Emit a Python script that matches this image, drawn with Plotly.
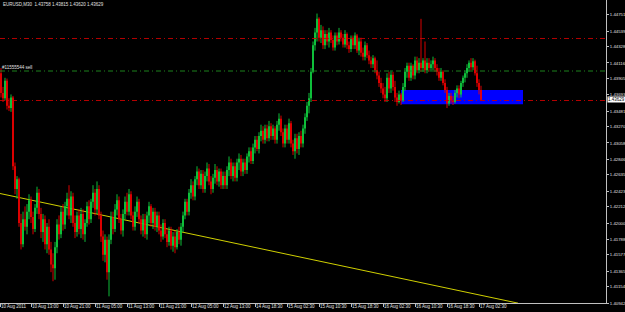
import plotly.graph_objects as go

# ---------------- data (EURUSD M30, prices in 1e-4 units) ----------------
opens = [
    14398,14372,14365,14388,14355,14352,14366,14275,14245,14258,
    14200,14172,14205,14195,14215,14230,14208,14192,14220,14240,
    14212,14188,14205,14172,14195,14165,14145,14140,14168,14198,
    14185,14215,14198,14222,14232,14210,14235,14200,14188,14210,
    14192,14212,14185,14200,14222,14205,14228,14240,14218,14245,
    14210,14182,14158,14178,14135,14178,14208,14192,14218,14230,
    14205,14190,14212,14228,14215,14238,14210,14195,14215,14228,
    14205,14190,14205,14185,14210,14222,14200,14215,14195,14210,
    14190,14182,14200,14185,14175,14190,14170,14182,14168,14188,
    14178,14195,14210,14228,14215,14240,14250,14235,14258,14268,
    14250,14265,14245,14262,14272,14255,14245,14260,14270,14255,
    14268,14250,14262,14250,14270,14280,14262,14275,14260,14280,
    14285,14268,14280,14270,14288,14295,14282,14300,14310,14298,
    14315,14322,14310,14325,14312,14328,14315,14325,14310,14330,
    14338,14320,14305,14325,14310,14332,14305,14295,14312,14298,
    14315,14305,14325,14340,14355,14365,14400,14435,14452,14470,
    14445,14455,14435,14450,14440,14452,14442,14432,14448,14440,
    14452,14445,14436,14450,14435,14430,14445,14435,14448,14428,
    14440,14425,14420,14435,14422,14415,14410,14418,14402,14395,
    14385,14378,14370,14365,14392,14378,14396,14380,14366,14360,
    14370,14362,14380,14400,14408,14392,14408,14395,14415,14402,
    14412,14405,14415,14402,14412,14405,14410,14415,14405,14400,
    14392,14400,14385,14376,14358,14368,14362,14360,14372,14378,
    14370,14385,14392,14398,14405,14412,14406,14414,14398,14385,
    14375.8,
]
highs = [
    14405,14380,14392,14391,14365,14370,14368,14280,14262,14260,
    14212,14215,14222,14225,14238,14235,14215,14225,14248,14245,
    14220,14212,14210,14200,14205,14175,14160,14175,14205,14210,
    14222,14225,14228,14240,14250,14242,14240,14210,14215,14218,
    14220,14218,14205,14228,14230,14232,14250,14245,14255,14250,
    14215,14190,14185,14182,14185,14215,14215,14225,14238,14235,
    14212,14218,14235,14240,14245,14242,14215,14222,14235,14232,
    14210,14212,14212,14215,14228,14225,14220,14220,14215,14215,
    14198,14205,14205,14192,14195,14195,14188,14190,14192,14195,
    14200,14215,14232,14232,14245,14258,14255,14262,14275,14272,
    14270,14270,14268,14280,14278,14262,14265,14278,14275,14272,
    14272,14268,14268,14275,14288,14285,14280,14280,14285,14292,
    14290,14285,14285,14292,14300,14300,14305,14315,14315,14320,
    14330,14328,14330,14330,14335,14332,14330,14328,14335,14345,
    14342,14325,14330,14330,14338,14335,14310,14318,14318,14320,
    14322,14330,14345,14360,14372,14405,14440,14458,14477,14472,
    14462,14460,14455,14455,14458,14455,14448,14452,14452,14458,
    14455,14450,14455,14452,14440,14448,14448,14452,14450,14445,
    14445,14432,14440,14438,14428,14420,14422,14420,14415,14400,
    14392,14385,14380,14398,14400,14402,14400,14388,14372,14375,
    14372,14385,14405,14412,14412,14412,14410,14420,14420,14418,
    14470,14418,14440,14418,14418,14415,14420,14418,14410,14405,
    14405,14402,14390,14380,14372,14372,14368,14376,14382,14382,
    14388,14395,14402,14410,14415,14418,14418,14416,14408,14390,
    14381.5,
]
lows = [
    14366,14360,14362,14350,14348,14347,14270,14238,14232,14195,
    14165,14168,14190,14185,14205,14200,14185,14188,14212,14205,
    14180,14175,14165,14160,14158,14135,14123,14125,14160,14178,
    14180,14190,14192,14210,14205,14200,14195,14180,14182,14185,
    14180,14178,14175,14195,14198,14200,14220,14210,14212,14205,
    14175,14150,14148,14125,14103,14172,14185,14188,14210,14200,
    14185,14182,14205,14210,14210,14205,14190,14190,14208,14200,
    14185,14182,14180,14178,14200,14195,14192,14190,14188,14185,
    14175,14178,14180,14168,14170,14165,14162,14160,14165,14172,
    14170,14188,14205,14210,14210,14232,14230,14230,14250,14245,
    14245,14240,14240,14255,14250,14238,14240,14252,14250,14248,
    14245,14245,14245,14245,14262,14258,14255,14255,14255,14270,
    14262,14262,14265,14265,14280,14278,14278,14292,14295,14292,
    14308,14305,14305,14308,14308,14310,14310,14305,14305,14322,
    14315,14300,14300,14305,14305,14300,14290,14285,14292,14290,
    14300,14300,14318,14335,14345,14360,14398,14428,14440,14440,
    14438,14430,14430,14435,14432,14438,14428,14428,14435,14436,
    14440,14432,14432,14430,14425,14426,14430,14430,14425,14422,
    14420,14415,14415,14418,14410,14405,14405,14398,14390,14380,
    14372,14365,14360,14360,14372,14372,14375,14360,14355,14358,
    14356,14360,14375,14392,14388,14388,14390,14390,14398,14398,
    14400,14400,14398,14398,14400,14400,14402,14400,14395,14388,
    14388,14382,14372,14352,14355,14358,14356,14358,14366,14365,
    14366,14380,14386,14392,14400,14402,14402,14395,14380,14370,
    14362.0,
]
closes = [
    14372,14365,14388,14355,14352,14366,14275,14245,14258,14200,
    14172,14205,14195,14215,14230,14208,14192,14220,14240,14212,
    14188,14205,14172,14195,14165,14145,14140,14168,14198,14185,
    14215,14198,14222,14232,14210,14235,14200,14188,14210,14192,
    14212,14185,14200,14222,14205,14228,14240,14218,14245,14210,
    14182,14158,14178,14135,14178,14208,14192,14218,14230,14205,
    14190,14212,14228,14215,14238,14210,14195,14215,14228,14205,
    14190,14205,14185,14210,14222,14200,14215,14195,14210,14190,
    14182,14200,14185,14175,14190,14170,14182,14168,14188,14178,
    14195,14210,14228,14215,14240,14250,14235,14258,14268,14250,
    14265,14245,14262,14272,14255,14245,14260,14270,14255,14268,
    14250,14262,14250,14270,14280,14262,14275,14260,14280,14285,
    14268,14280,14270,14288,14295,14282,14300,14310,14298,14315,
    14322,14310,14325,14312,14328,14315,14325,14310,14330,14338,
    14320,14305,14325,14310,14332,14305,14295,14312,14298,14315,
    14305,14325,14340,14355,14365,14400,14435,14452,14470,14445,
    14455,14435,14450,14440,14452,14442,14432,14448,14440,14452,
    14445,14436,14450,14435,14430,14445,14435,14448,14428,14440,
    14425,14420,14435,14422,14415,14410,14418,14402,14395,14385,
    14378,14370,14365,14392,14378,14396,14380,14366,14360,14370,
    14362,14380,14400,14408,14392,14408,14395,14415,14402,14412,
    14405,14415,14402,14412,14405,14410,14415,14405,14400,14392,
    14400,14385,14376,14358,14368,14362,14360,14372,14378,14370,
    14385,14392,14398,14405,14412,14406,14414,14398,14385,14376,
    14362.9,
]
PIP = 10000.0

time_labels = ["10 Aug 2011", "10 Aug 13:00", "10 Aug 21:00", "11 Aug 05:00",
               "11 Aug 13:00", "11 Aug 21:00", "12 Aug 05:00", "12 Aug 13:00",
               "14 Aug 18:30", "15 Aug 02:30", "15 Aug 10:30", "15 Aug 18:30",
               "16 Aug 02:30", "16 Aug 10:30", "16 Aug 18:30", "17 Aug 02:30"]
time_label_bars = [-0.5, 15, 31, 47, 63, 79, 95, 111, 127, 143, 159, 175, 191, 207, 223, 239]

price_ticks = [1.40942, 1.41154, 1.41365, 1.41577, 1.41788, 1.42000, 1.42212,
               1.42423, 1.42635, 1.42846, 1.43058, 1.43270, 1.43481, 1.43693,
               1.43905, 1.44116, 1.44328, 1.44539, 1.44751]
y_range = [1.40942, 1.44949]
x_range = [-0.5, 302.5]

title_text = "EURUSD,M30  1.43758 1.43815 1.43620 1.43629"
last_price = 1.43629
order_label = "#11555544 sell"
order_price = 1.4401
stop_price = 1.4444
level_price = 1.4362
zone_bars = [200, 261]
zone_prices = [1.4357, 1.4376]
trend_bars = [-0.5, 258.5]
trend_prices = [1.4239, 1.4094]

BULL = "#10d040"
BEAR = "#f00000"
FG = "#e0e0e0"
AX = "#c0c0c0"
FONT = "Liberation Sans"
FS = 4.5

# ---------------- build candle segments ----------------
def segs(cond, a, b):
    xs, ys = [], []
    for i in range(len(closes)):
        if cond(i):
            xs += [i, i, None]
            ys += [a[i] / PIP, b[i] / PIP, None]
    return xs, ys

up = lambda i: closes[i] >= opens[i]
dn = lambda i: closes[i] < opens[i]

fig = go.Figure()

# trend line
fig.add_trace(go.Scatter(x=trend_bars, y=trend_prices, mode="lines",
                         line=dict(color="#d0d000", width=1), hoverinfo="skip"))

for cond, col in ((up, BULL), (dn, BEAR)):
    x, y = segs(cond, lows, highs)
    fig.add_trace(go.Scatter(x=x, y=y, mode="lines", line=dict(color=col, width=0.9),
                             hoverinfo="skip"))
    x, y = segs(cond, opens, closes)
    fig.add_trace(go.Scatter(x=x, y=y, mode="lines", line=dict(color=col, width=1.7),
                             hoverinfo="skip"))

shapes = [
    dict(type="rect", xref="x", yref="y", x0=zone_bars[0], x1=zone_bars[1],
         y0=zone_prices[0], y1=zone_prices[1], fillcolor="#0000ff",
         line=dict(width=0), layer="below"),
]
for p, c in ((stop_price, "#c80000"), (order_price, "#209020"), (level_price, "#c80000")):
    shapes.append(dict(type="line", xref="paper", yref="y", x0=0, x1=1, y0=p, y1=p,
                       line=dict(color=c, width=0.9, dash="5px,3px,1px,3px"), layer="above"))

annotations = [
    dict(text=title_text, xref="paper", yref="paper", x=0, y=1, xanchor="left",
         yanchor="top", xshift=1, yshift=0, showarrow=False,
         font=dict(family=FONT, size=FS, color=FG)),
    dict(text=order_label, xref="x", yref="y", x=0, y=order_price, xanchor="left",
         yanchor="bottom", showarrow=False, borderpad=0,
         font=dict(family=FONT, size=FS, color=FG)),
    dict(text=f"{last_price:.5f}", xref="paper", yref="y", x=1, y=last_price,
         xanchor="left", yanchor="middle", xshift=1, showarrow=False, borderpad=0,
         bgcolor="#ffffff", font=dict(family=FONT, size=FS, color="#000000")),
]
for lbl, b in zip(time_labels, time_label_bars):
    annotations.append(dict(text=lbl, xref="x", yref="paper", x=b, y=0,
                            xanchor="left", yanchor="top", xshift=0, yshift=0,
                            showarrow=False, borderpad=0,
                            font=dict(family=FONT, size=FS, color=FG)))

fig.update_layout(
    width=625, height=312,
    margin=dict(l=0, r=19, t=0, b=9, autoexpand=False),
    paper_bgcolor="#000000", plot_bgcolor="#000000",
    showlegend=False, shapes=shapes, annotations=annotations,
    xaxis=dict(range=x_range, showgrid=False, zeroline=False, showline=True,
               linecolor=AX, linewidth=1, ticks="outside", ticklen=3, tickcolor=AX,
               tickvals=time_label_bars, showticklabels=False, fixedrange=True),
    yaxis=dict(range=y_range, side="right", showgrid=False, zeroline=False,
               showline=True, linecolor=AX, linewidth=1, ticks="outside", ticklen=2,
               tickcolor=AX, tickvals=price_ticks,
               ticktext=[f"{v:.5f}" for v in price_ticks],
               tickfont=dict(family=FONT, size=4.3, color=FG), ticklabelstandoff=0),
)

fig.write_html("out.html")
